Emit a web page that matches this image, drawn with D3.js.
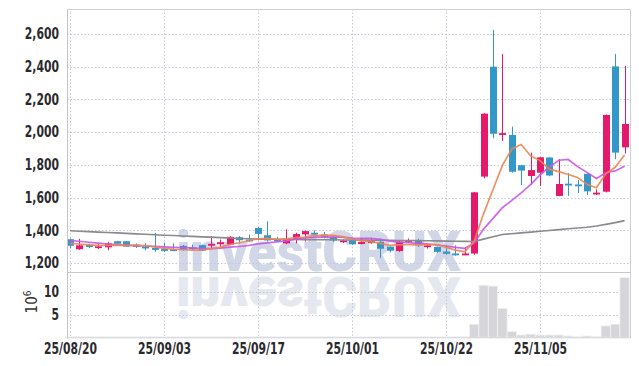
<!DOCTYPE html>
<html><head><meta charset="utf-8">
<script src="https://cdn.jsdelivr.net/npm/d3@7"></script>
<style>
html,body{margin:0;padding:0;background:#fff;}
svg{display:block;}
</style></head>
<body>
<svg id="chart" width="639" height="366"></svg>
<script>
// ---------- DATA ----------
const dates = ["25/08/20","25/08/21","25/08/22","25/08/25","25/08/26","25/08/27","25/08/28","25/08/29",
"25/09/01","25/09/02","25/09/03","25/09/04","25/09/05","25/09/08","25/09/09","25/09/10","25/09/11","25/09/12",
"25/09/15","25/09/16","25/09/17","25/09/18","25/09/19","25/09/22","25/09/23","25/09/24","25/09/25","25/09/26",
"25/09/29","25/09/30","25/10/01","25/10/02","25/10/10","25/10/13","25/10/14","25/10/15","25/10/16","25/10/17",
"25/10/20","25/10/21","25/10/22","25/10/23","25/10/24","25/10/27","25/10/28","25/10/29","25/10/30","25/10/31",
"25/11/03","25/11/04","25/11/05","25/11/06","25/11/07","25/11/10","25/11/11","25/11/12","25/11/13","25/11/14",
"25/11/17","25/11/18"];
const tickDates = ["25/08/20","25/09/03","25/09/17","25/10/01","25/10/22","25/11/05"];
const open  = [1345,1284,1312,1296,1296,1333,1333,1312,1300,1292,1286,1284,1305,1295,1309,1307,1315,1313,1358,1343,
               1414,1370,1345,1320,1345,1375,1385,1374,1360,1328,1340,1316,1322,1330,1300,1273,1330,1338,1298,1298,
               1270,1258,1252,1258,1728,2400,1984,1983,1798,1732,1752,1845,1610,1685,1680,1745,1620,1636,2402,1907];
const high  = [1350,1348,1318,1318,1330,1335,1335,1320,1322,1384,1325,1320,1310,1313,1312,1364,1343,1364,1364,1374,
               1420,1455,1360,1405,1385,1398,1400,1390,1370,1345,1352,1352,1352,1350,1302,1335,1350,1348,1318,1300,
               1308,1308,1298,1635,2118,2624,2478,2033,1800,1875,1848,1848,1835,1750,1707,1748,1650,2108,2478,2404];
const low   = [1290,1280,1292,1285,1278,1315,1298,1292,1278,1268,1268,1272,1275,1279,1272,1283,1299,1309,1323,1329,
               1352,1330,1330,1315,1320,1330,1372,1350,1330,1322,1310,1314,1318,1230,1265,1268,1322,1298,1288,1263,
               1251,1245,1247,1250,1718,1962,1946,1752,1677,1678,1670,1730,1608,1610,1628,1616,1616,1632,1835,1870];
const close = [1305,1308,1298,1302,1320,1318,1300,1298,1294,1280,1274,1276,1280,1285,1275,1317,1327,1360,1339,1335,
               1378,1338,1335,1350,1377,1395,1376,1358,1338,1338,1316,1328,1333,1287,1275,1330,1340,1312,1308,1268,
               1256,1252,1258,1632,2113,1990,1994,1758,1765,1768,1846,1735,1683,1675,1675,1638,1630,2105,1875,2050];
const ma5   = [1320,1316,1311,1308,1307,1309,1308,1308,1306,1298,1289,1284,1281,1279,1278,1287,1297,1313,1324,1336,
               1348,1350,1345,1347,1356,1359,1367,1371,1369,1361,1345,1336,1331,1320,1308,1311,1313,1309,1313,1312,
               1297,1279,1268,1333,1502,1649,1797,1897,1924,1855,1826,1774,1759,1741,1723,1681,1660,1745,1785,1860];
const ma10  = [1338,1333,1327,1321,1316,1312,1309,1306,1304,1302,1299,1296,1294,1293,1288,1288,1291,1297,1301,1307,
               1317,1323,1329,1335,1346,1353,1358,1358,1358,1358,1352,1351,1351,1345,1334,1328,1324,1320,1317,1310,
               1304,1296,1289,1323,1407,1473,1538,1583,1629,1679,1738,1786,1828,1833,1789,1754,1717,1752,1763,1791];
const maLong = [1397,1394,1392,1389,1386,1384,1381,1378,1376,1373,1370,1368,1365,1363,1360,1358,1355,1353,1350,1348,
                1346,1345,1345,1344,1344,1343,1343,1342,1342,1341,1341,1340,1340,1339,1339,1338,1338,1337,1336,1335,
                1334,1333,1332,1331,1346,1361,1374,1379,1384,1389,1394,1399,1404,1409,1414,1419,1426,1436,1447,1459];
const volume = [0.1,0.1,0.1,0.1,0.1,0.1,0.1,0.1,0.1,0.2,0.1,0.1,0.1,0.1,0.1,0.1,0.1,0.1,0.1,0.1,
                0.2,0.2,0.1,0.1,0.1,0.1,0.1,0.1,0.1,0.1,0.1,0.1,0.1,0.1,0.1,0.1,0.1,0.1,0.1,0.1,
                0.1,0.1,0.1,2.9,11.5,11.3,6.4,1.3,0.5,0.7,0.5,0.5,0.5,0.3,0.15,0.3,0.15,2.5,2.9,13.2];
const priceTicks = [1200,1400,1600,1800,2000,2200,2400,2600];
const volTicks = [5,10];

// ---------- LAYOUT ----------
const L = 67, R = 631, T = 9, PB = 272, VB = 337.3;
const svg = d3.select("#chart");
const idx = d3.range(dates.length);
const x = d3.scaleLinear().domain([0, 59]).range([70, 624.6]);
const y = d3.scaleLinear().domain([1200, 2600]).range([263, 34]);
const yv = d3.scaleLinear().domain([0, 10]).range([VB, 292]);
const UP = "#e5196b", DOWN = "#3398c8";
const labelFont = "'Liberation Sans Narrow','DejaVu Sans Condensed','Roboto Condensed',sans-serif";

const defs = svg.append("defs");
defs.append("clipPath").attr("id","pclip")
  .append("rect").attr("x",L).attr("y",T).attr("width",R-L).attr("height",PB-T);
defs.append("clipPath").attr("id","wclip1")
  .append("rect").attr("x",L).attr("y",T).attr("width",R-L).attr("height",PB-T);
defs.append("clipPath").attr("id","wclip2")
  .append("rect").attr("x",L).attr("y",PB+1).attr("width",R-L).attr("height",VB-PB-1);

// watermark
svg.append("g").attr("clip-path","url(#wclip1)")
  .append("text").attr("x",176).attr("y",271).text("investCRUX")
  .attr("font-family","Roboto,'Open Sans',sans-serif").attr("font-weight",900)
  .attr("font-size",56).attr("textLength",285).attr("lengthAdjust","spacingAndGlyphs")
  .attr("fill","#d2d7e7");
svg.append("g").attr("clip-path","url(#wclip2)")
  .append("text").attr("x",176).attr("y",271).text("investCRUX")
  .attr("transform","translate(0,548) scale(1,-1)")
  .attr("font-family","Roboto,'Open Sans',sans-serif").attr("font-weight",900)
  .attr("font-size",56).attr("textLength",285).attr("lengthAdjust","spacingAndGlyphs")
  .attr("fill","#e6e8f0");

// grid
const grid = svg.append("g").attr("stroke","#c3c8d8").attr("stroke-dasharray","1.5,2").attr("stroke-width",1);
grid.selectAll(".hg").data(priceTicks).join("line")
  .attr("x1",L).attr("x2",R).attr("y1",d=>Math.round(y(d))+0.5).attr("y2",d=>Math.round(y(d))+0.5);
grid.selectAll(".vg").data(volTicks).join("line")
  .attr("x1",L).attr("x2",R).attr("y1",d=>Math.round(yv(d))+0.5).attr("y2",d=>Math.round(yv(d))+0.5);
const tickIdx = tickDates.map(d => dates.indexOf(d));
grid.selectAll(".xg").data(tickIdx).join("line")
  .attr("x1",d=>Math.round(x(d))+0.5).attr("x2",d=>Math.round(x(d))+0.5).attr("y1",T).attr("y2",VB);

// volume bars
svg.append("g").selectAll("rect").data(idx).join("rect")
  .attr("x",i=>x(i)-4.7).attr("width",9.4)
  .attr("y",i=>yv(volume[i])).attr("height",i=>VB-yv(volume[i]))
  .attr("fill","#d6d6da").attr("stroke","#f2f2f4").attr("stroke-width",0.8);

// candles
const cg = svg.append("g").attr("clip-path","url(#pclip)");
const candle = cg.selectAll("g").data(idx).join("g");
candle.append("line")
  .attr("x1",i=>Math.round(x(i))+0.5).attr("x2",i=>Math.round(x(i))+0.5)
  .attr("y1",i=>y(high[i])).attr("y2",i=>y(low[i]))
  .attr("stroke",i=>close[i]>=open[i]?UP:DOWN).attr("stroke-width",1);
candle.append("rect")
  .attr("x",i=>Math.round(x(i))+0.5-3.5).attr("width",7)
  .attr("y",i=>y(Math.max(open[i],close[i])))
  .attr("height",i=>Math.max(1.8, Math.abs(y(open[i])-y(close[i]))))
  .attr("fill",i=>close[i]>=open[i]?UP:DOWN);

// moving averages
const line = arr => d3.line().x(i=>x(i)).y(i=>y(arr[i]))(idx);
const lg = svg.append("g").attr("clip-path","url(#pclip)").attr("fill","none");
lg.append("path").attr("d",line(maLong)).attr("stroke","#8a8a8e").attr("stroke-width",1.6);
lg.append("path").attr("d",line(ma10)).attr("stroke","#cc55e8").attr("stroke-width",1.7).attr("opacity",0.9);
lg.append("path").attr("d",line(ma5)).attr("stroke","#ee8552").attr("stroke-width",1.7).attr("opacity",0.9);

// frame
const fr = svg.append("g").attr("stroke","#cfd0d6").attr("fill","none");
fr.append("rect").attr("x",L+0.5).attr("y",T+0.5).attr("width",R-L-1).attr("height",VB-T);
fr.append("line").attr("x1",L).attr("x2",R).attr("y1",PB+0.5).attr("y2",PB+0.5).attr("stroke","#c8c9cf");
fr.append("line").attr("x1",L+0.5).attr("x2",L+0.5).attr("y1",T).attr("y2",VB+1).attr("stroke","#c4c5cb");

// axes
const styleAxis = g => {
  g.select(".domain").remove();
  g.selectAll("text").attr("font-family",labelFont).attr("font-weight","bold")
    .attr("font-size",15).attr("fill","#2a2a2e")
    .each(function(){
      const w = this.getComputedTextLength();
      d3.select(this).attr("textLength", w*0.8).attr("lengthAdjust","spacingAndGlyphs");
    });
};
svg.append("g").attr("transform",`translate(${L},0)`)
  .call(d3.axisLeft(y).tickValues(priceTicks).tickFormat(d3.format(",")).tickSize(0).tickPadding(8))
  .call(styleAxis);
svg.append("g").attr("transform",`translate(${L},0)`)
  .call(d3.axisLeft(yv).tickValues(volTicks).tickFormat(d3.format("d")).tickSize(0).tickPadding(8))
  .call(styleAxis);
svg.append("g").attr("transform",`translate(0,${VB})`)
  .call(d3.axisBottom(x).tickValues(tickIdx).tickFormat(i=>dates[i]).tickSize(0).tickPadding(6))
  .call(styleAxis);

// volume unit label 10^6
const ul = svg.append("text").attr("transform","translate(37,302) rotate(-90)")
  .attr("text-anchor","middle").attr("font-family",labelFont).attr("fill","#333").attr("font-size",15);
ul.append("tspan").text("10");
ul.append("tspan").text("6").attr("font-size",10).attr("dy",-6);
</script>
</body></html>
